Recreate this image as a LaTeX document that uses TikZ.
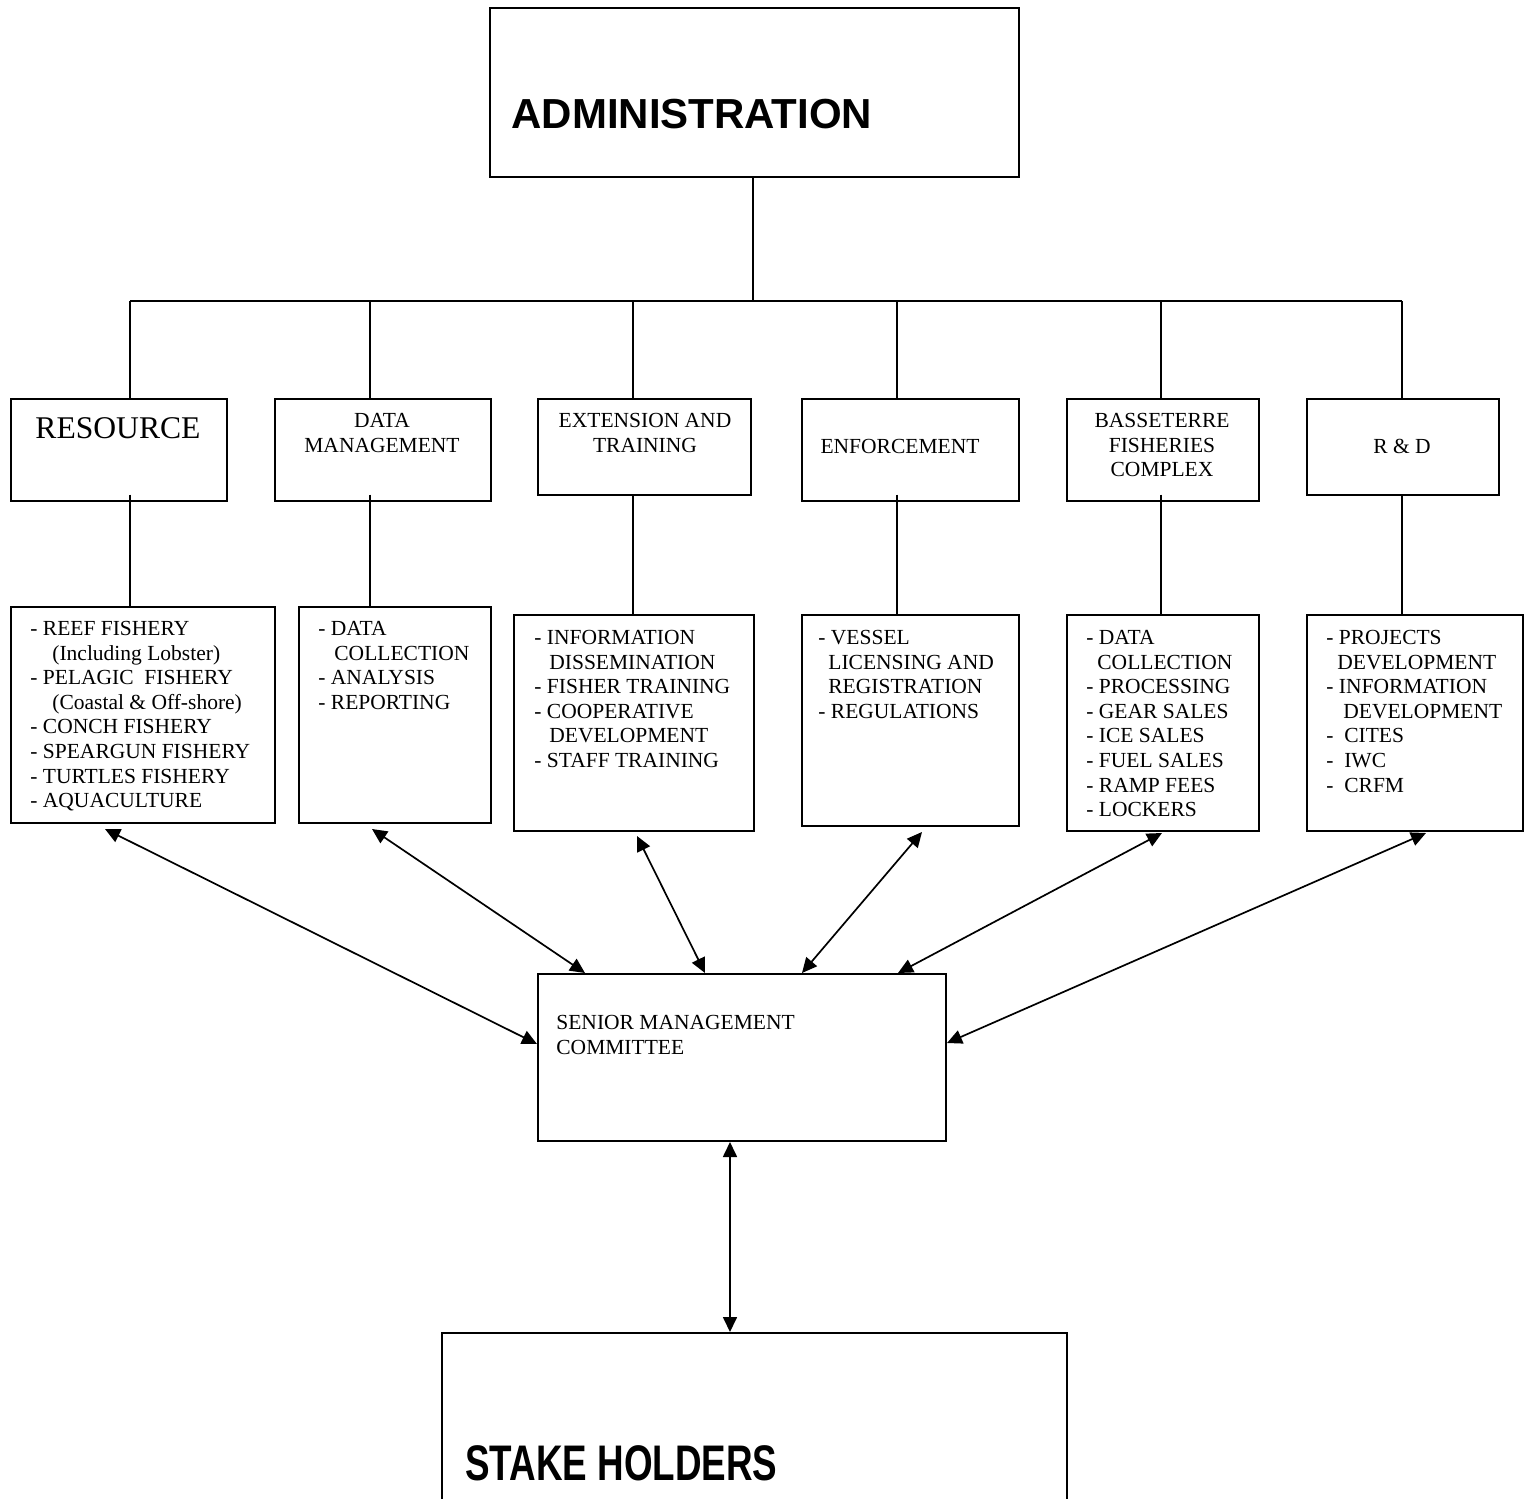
\documentclass[tikz,border=0pt]{standalone}
\usepackage{fontspec}
\setmainfont{Liberation Serif}
\newfontfamily\hdsans{Liberation Sans}
\usetikzlibrary{arrows.meta,calc}
\newcommand\firstln{\rule{0pt}{8pt}}
\begin{document}
\begin{tikzpicture}[x=0.5pt,y=-0.5pt,
  box/.style={draw, line width=0.85pt, inner sep=0pt, anchor=north west},
  sz/.style args={#1/#2}{minimum width={#1*0.5pt}, minimum height={#2*0.5pt}},
  conn/.style={line width=0.85pt},
  biarrow/.style={line width=0.85pt, {Triangle[length=7.5pt,width=7pt]}-{Triangle[length=7.5pt,width=7pt]}},
  small/.style={font=\fontsize{10.75}{12.3}\selectfont, inner sep=0pt},
  hd/.style={small, align=center, anchor=north},
  lst/.style={small, align=left, anchor=north west},
]
\useasboundingbox (0,0) rectangle (1528,1499);
% boxes
\node[box, sz=529/169] (admin) at (489,7) {};
\node[box, sz=216/102] (res) at (10,398) {};
\node[box, sz=216/102] (dm) at (274,398) {};
\node[box, sz=213/96] (ext) at (537,398) {};
\node[box, sz=217/102] (enf) at (801,398) {};
\node[box, sz=192/102] (bas) at (1066,398) {};
\node[box, sz=192/96] (rd) at (1306,398) {};
\node[box, sz=264/216] (resl) at (10,606) {};
\node[box, sz=192/216] (dml) at (298,606) {};
\node[box, sz=240/216] (extl) at (513,614) {};
\node[box, sz=217/211] (enfl) at (801,614) {};
\node[box, sz=192/216] (basl) at (1066,614) {};
\node[box, sz=216/216] (rdl) at (1306,614) {};
\node[box, sz=408/167] (smc) at (537,973) {};
\node[inner sep=0pt, anchor=north west, sz=624/166] (stake) at (442,1333) {};
\draw[conn] (stake.south west) |- (stake.north east) -- (stake.south east);
% texts
\node[anchor=base west, inner sep=0pt, font=\hdsans\bfseries\fontsize{21}{25}\selectfont] (admint) at (511,128) {ADMINISTRATION};
\node[anchor=base west, inner sep=0pt, font=\hdsans\bfseries\fontsize{25}{30}\selectfont] (staket) at (465,1480) {\scalebox{0.736}[1]{STAKE HOLDERS}};
\node[anchor=base, inner sep=0pt, font=\fontsize{15.8}{19}\selectfont] (rest) at (118,438) {RESOURCE};
\node[hd] (dmt) at (382,411) {\firstln DATA\\MANAGEMENT};
\node[hd] (extt) at (645,411) {\firstln EXTENSION AND\\TRAINING};
\node[small, anchor=base] (enft) at (900,453) {ENFORCEMENT};
\node[hd] (bast) at (1162,411) {\firstln BASSETERRE\\FISHERIES\\COMPLEX};
\node[small, anchor=base] (rdt) at (1402,453) {R \& D};
\node[lst] (reslt) at (30,619) {\firstln- REEF FISHERY\\\hspace*{11pt}(Including Lobster)\\- PELAGIC\ \ FISHERY\\\hspace*{11pt}(Coastal \& Off-shore)\\- CONCH FISHERY\\- SPEARGUN FISHERY\\- TURTLES FISHERY\\- AQUACULTURE};
\node[lst] (dmlt) at (318,619) {\firstln- DATA\\\hspace*{8pt}COLLECTION\\- ANALYSIS\\- REPORTING};
\node[lst] (extlt) at (534,628) {\firstln- INFORMATION\\\hspace*{7.5pt}DISSEMINATION\\- FISHER TRAINING\\- COOPERATIVE\\\hspace*{7.5pt}DEVELOPMENT\\- STAFF TRAINING};
\node[lst] (enflt) at (818,628) {\firstln- VESSEL\\\hspace*{5pt}LICENSING AND\\\hspace*{5pt}REGISTRATION\\- REGULATIONS};
\node[lst] (baslt) at (1086,628) {\firstln- DATA\\\hspace*{5.5pt}COLLECTION\\- PROCESSING\\- GEAR SALES\\- ICE SALES\\- FUEL SALES\\- RAMP FEES\\- LOCKERS};
\node[lst] (rdlt) at (1326,628) {\firstln- PROJECTS\\\hspace*{5.5pt}DEVELOPMENT\\- INFORMATION\\\hspace*{8.5pt}DEVELOPMENT\\-\ \ CITES\\-\ \ IWC\\-\ \ CRFM};
\node[lst] (smct) at (556,1013) {\firstln SENIOR MANAGEMENT\\COMMITTEE};
% tree connectors
\coordinate (bus) at (753,301);
\coordinate (d1) at (130,301);
\coordinate (d2) at (370,301);
\coordinate (d3) at (633,301);
\coordinate (d4) at (897,301);
\coordinate (d5) at (1161,301);
\coordinate (d6) at (1402,301);
\draw[conn] (admin.south -| bus) -- (bus);
\draw[conn] (d1) -- (d6);
\draw[conn] (d1) -- (d1 |- res.north);
\draw[conn] (d2) -- (d2 |- dm.north);
\draw[conn] (d3) -- (d3 |- ext.north);
\draw[conn] (d4) -- (d4 |- enf.north);
\draw[conn] (d5) -- (d5 |- bas.north);
\draw[conn] (d6) -- (d6 |- rd.north);
\draw[conn] ([yshift=3.5pt]d1 |- res.south) -- (d1 |- resl.north);
\draw[conn] ([yshift=3.5pt]d2 |- dm.south) -- (d2 |- dml.north);
\draw[conn] (d3 |- ext.south) -- (d3 |- extl.north);
\draw[conn] ([yshift=3.5pt]d4 |- enf.south) -- (d4 |- enfl.north);
\draw[conn] ([yshift=3.5pt]d5 |- bas.south) -- (d5 |- basl.north);
\draw[conn] (d6 |- rd.south) -- (d6 |- rdl.north);
% arrows
\coordinate (a1s) at (105,829);  \coordinate (a1e) at (537,1044);
\coordinate (a2s) at (372,829);  \coordinate (a2e) at (585,973);
\coordinate (a3s) at (637,836);  \coordinate (a3e) at (705,973);
\coordinate (a4s) at (922,832);  \coordinate (a4e) at (802,973);
\coordinate (a5s) at (1162,833); \coordinate (a5e) at (898,973);
\coordinate (a6s) at (1426,833); \coordinate (a6e) at (947,1043);
\coordinate (a7s) at (730,1142); \coordinate (a7e) at (730,1332);
\draw[biarrow] (a1s) -- (a1e);
\draw[biarrow] (a2s) -- (a2e);
\draw[biarrow] (a3s) -- (a3e);
\draw[biarrow] (a4s) -- (a4e);
\draw[biarrow] (a5s) -- (a5e);
\draw[biarrow] (a6s) -- (a6e);
\draw[biarrow] (a7s) -- (a7e);
\end{tikzpicture}
\end{document}
